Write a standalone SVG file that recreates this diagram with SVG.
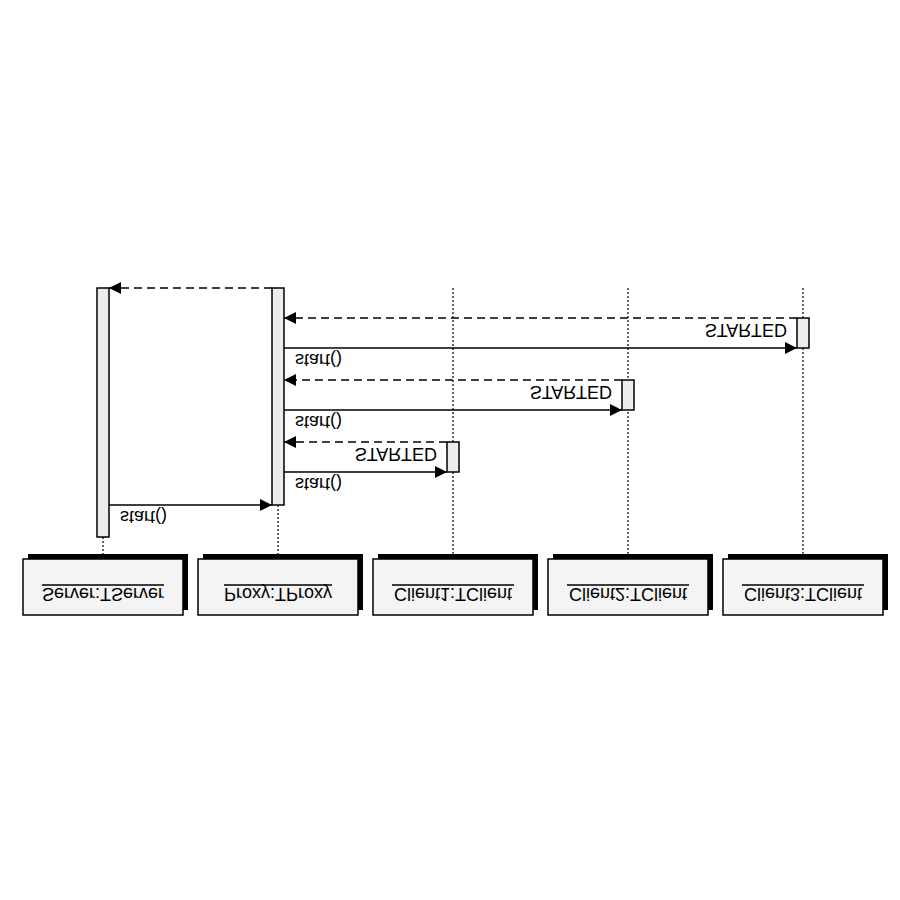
<svg xmlns="http://www.w3.org/2000/svg" width="900" height="900" viewBox="0 0 900 900">
<defs>
<marker id="ah" viewBox="0 0 12 12" refX="12" refY="6" markerWidth="12" markerHeight="12" markerUnits="userSpaceOnUse" orient="auto">
<path d="M0,0 L12,6 L0,12 Z" fill="#000"/>
</marker>
<style>
text{font-family:"Liberation Sans",Arial,sans-serif;font-size:18px;fill:#000}
.shadow{fill:#000}
.box{fill:#f4f4f4;stroke:#000;stroke-width:1.5}
.ul{stroke:#000;stroke-width:1.5}
.life{stroke:#000;stroke-width:1.2;stroke-dasharray:2,2;fill:none}
.act{fill:#ececec;stroke:#000;stroke-width:1.5}
.call{stroke:#000;stroke-width:1.5;fill:none;marker-end:url(#ah)}
.ret{stroke:#000;stroke-width:1.5;stroke-dasharray:8,5;fill:none;marker-end:url(#ah)}
</style>
</defs>
<rect width="900" height="900" fill="#fff"/>
<g id="lifelines">
<line class="life" x1="103" y1="537" x2="103" y2="554"/>
<line class="life" x1="278" y1="505" x2="278" y2="554"/>
<line class="life" x1="453" y1="288" x2="453" y2="554"/>
<line class="life" x1="628" y1="288" x2="628" y2="554"/>
<line class="life" x1="803" y1="288" x2="803" y2="554"/>
</g>
<g id="server">
<rect class="shadow" x="28" y="554" width="160" height="56"/>
<rect class="box" x="23" y="559" width="160" height="56"/>
<line class="ul" x1="42" y1="585" x2="164" y2="585"/>
<text transform="translate(0,588) scale(1,-1)" x="103" y="0" text-anchor="middle">Server:TServer</text>
<rect class="act" x="97" y="288" width="12" height="249"/>
</g>
<g id="proxy">
<rect class="shadow" x="203" y="554" width="160" height="56"/>
<rect class="box" x="198" y="559" width="160" height="56"/>
<line class="ul" x1="224" y1="585" x2="332" y2="585"/>
<text transform="translate(0,588) scale(1,-1)" x="278" y="0" text-anchor="middle">Proxy:TProxy</text>
<rect class="act" x="272" y="288" width="12" height="217"/>
</g>
<g id="client1">
<rect class="shadow" x="378" y="554" width="160" height="56"/>
<rect class="box" x="373" y="559" width="160" height="56"/>
<line class="ul" x1="392" y1="585" x2="514" y2="585"/>
<text transform="translate(0,588) scale(1,-1)" x="453" y="0" text-anchor="middle">Client1:TClient</text>
<rect class="act" x="447" y="442" width="12" height="30"/>
</g>
<g id="client2">
<rect class="shadow" x="553" y="554" width="160" height="56"/>
<rect class="box" x="548" y="559" width="160" height="56"/>
<line class="ul" x1="567" y1="585" x2="689" y2="585"/>
<text transform="translate(0,588) scale(1,-1)" x="628" y="0" text-anchor="middle">Client2:TClient</text>
<rect class="act" x="622" y="380" width="12" height="30"/>
</g>
<g id="client3">
<rect class="shadow" x="728" y="554" width="160" height="56"/>
<rect class="box" x="723" y="559" width="160" height="56"/>
<line class="ul" x1="742" y1="585" x2="864" y2="585"/>
<text transform="translate(0,588) scale(1,-1)" x="803" y="0" text-anchor="middle">Client3:TClient</text>
<rect class="act" x="797" y="318" width="12" height="30"/>
</g>
<g id="connectors">
<line class="ret" x1="272" y1="288" x2="109" y2="288"/>
<line class="ret" x1="797" y1="318" x2="284" y2="318"/>
<line class="call" x1="284" y1="348" x2="797" y2="348"/>
<line class="ret" x1="622" y1="380" x2="284" y2="380"/>
<line class="call" x1="284" y1="410" x2="622" y2="410"/>
<line class="ret" x1="447" y1="442" x2="284" y2="442"/>
<line class="call" x1="284" y1="472" x2="447" y2="472"/>
<line class="call" x1="109" y1="505" x2="272" y2="505"/>
<text transform="translate(0,324) scale(1,-1)" x="787" y="0" text-anchor="end">STARTED</text>
<text transform="translate(0,386) scale(1,-1)" x="612" y="0" text-anchor="end">STARTED</text>
<text transform="translate(0,448) scale(1,-1)" x="437" y="0" text-anchor="end">STARTED</text>
<text transform="translate(0,354) scale(1,-1)" x="295" y="0">start()</text>
<text transform="translate(0,416) scale(1,-1)" x="295" y="0">start()</text>
<text transform="translate(0,478) scale(1,-1)" x="295" y="0">start()</text>
<text transform="translate(0,511) scale(1,-1)" x="120" y="0">start()</text>
</g>
</svg>
